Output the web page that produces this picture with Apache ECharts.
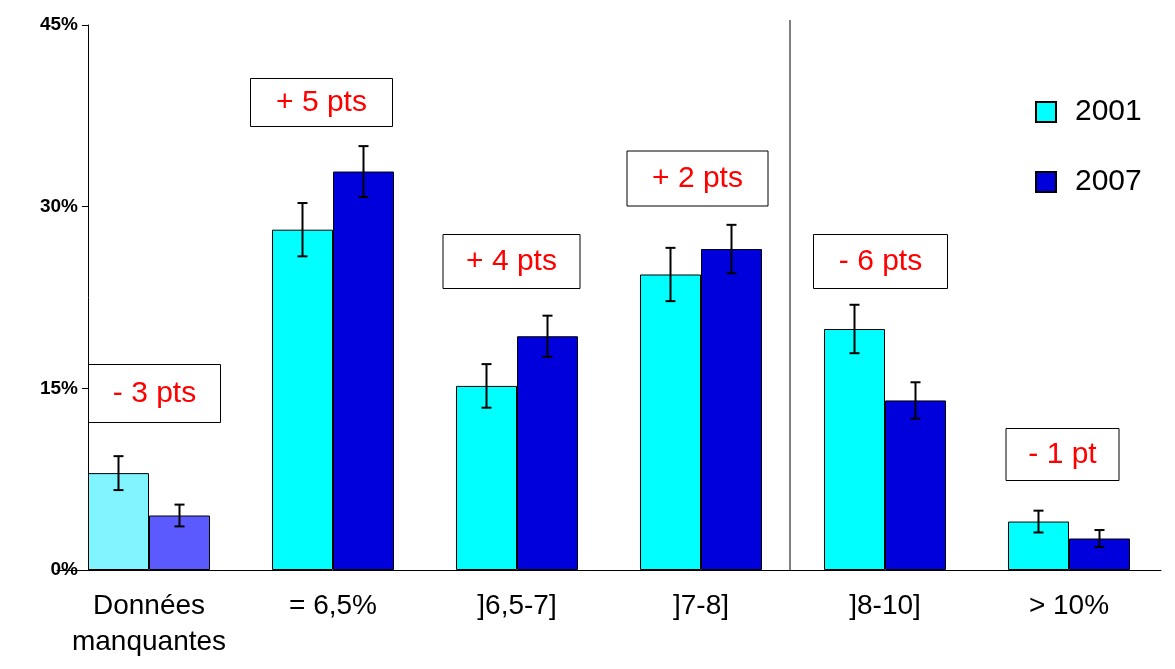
<!DOCTYPE html>
<html><head><meta charset="utf-8">
<script src="https://cdn.jsdelivr.net/npm/echarts@6/dist/echarts.min.js"></script>
<style>html,body{margin:0;background:#fff}#c{width:1175px;height:669px}</style>
</head><body><div id="c"></div>
<script>
var categories = ["Données\nmanquantes", "= 6,5%", "]6,5-7]", "]7-8]", "]8-10]", "> 10%"];
var v2001 = [8.0, 28.1, 15.2, 24.4, 19.9, 4.0];
var v2007 = [4.5, 32.9, 19.3, 26.5, 14.0, 2.6];
var err2001 = [1.4, 2.2, 1.8, 2.2, 2.0, 0.9];
var err2007 = [0.9, 2.1, 1.7, 2.0, 1.5, 0.7];
var yTicks = [0, 15, 30, 45];

var chart = echarts.init(document.getElementById("c"));

function errSeries(vals, errs, side) {
  return {
    type: "custom", z: 10,
    data: vals.map(function (v, i) { return [i, v, errs[i]]; }),
    renderItem: function (params, api) {
      var i = api.value(0), v = api.value(1), e = api.value(2);
      var hi = api.coord([i, v + e]), lo = api.coord([i, v - e]);
      var x = hi[0] + side * 30.5;
      var st = { stroke: "#000", lineWidth: 2 };
      return { type: "group", children: [
        { type: "line", shape: { x1: x, y1: hi[1], x2: x, y2: lo[1] }, style: st },
        { type: "line", shape: { x1: x - 5, y1: hi[1], x2: x + 5, y2: hi[1] }, style: st },
        { type: "line", shape: { x1: x - 5, y1: lo[1], x2: x + 5, y2: lo[1] }, style: st }
      ]};
    }
  };
}

function box(text, cx, cy, w, h) {
  return {
    type: "group", left: cx - w / 2, top: cy - h / 2, children: [
      { type: "rect", shape: { x: 0, y: 0, width: w, height: h }, style: { fill: "#fff", stroke: "#000", lineWidth: 1 } },
      { type: "text", x: w / 2, y: h / 2, style: { text: text, fill: "#ff0000", font: "30px Arial", align: "center", verticalAlign: "middle" } }
    ]
  };
}

chart.setOption({
  animation: false,
  grid: { left: 57, right: 14, top: 25, bottom: 99 },
  legend: {
    orient: "vertical", left: 1030, top: 92, itemWidth: 20, itemHeight: 20, itemGap: 40,
    icon: "rect",
    data: ["2001", "2007"],
    textStyle: { fontSize: 30, fontFamily: "Arial", color: "#000", padding: [0, 0, 0, 14] }
  },
  xAxis: {
    type: "category", data: categories,
    axisLine: { lineStyle: { color: "#000" } },
    axisTick: { show: false },
    axisLabel: { interval: 0, fontSize: 28, fontFamily: "Arial", color: "#000", margin: 18, lineHeight: 36 }
  },
  yAxis: {
    type: "value", min: 0, max: 45, interval: 15, offset: -31,
    axisLine: { show: true, lineStyle: { color: "#000" } },
    axisTick: { show: true, inside: false, length: 6, lineStyle: { color: "#000" } },
    splitLine: { show: false },
    axisLabel: { formatter: "{value}%", fontSize: 19, fontWeight: "bold", fontFamily: "Arial", color: "#000", margin: 10 }
  },
  series: [
    { name: "2001", type: "bar", barWidth: 61, barGap: "0%",
      itemStyle: { color: "#00ffff", borderColor: "#000", borderWidth: 1 },
      data: v2001.map(function (v, i) { return i === 0 ? { value: v, itemStyle: { color: "#80f4ff" } } : v; }) },
    { name: "2007", type: "bar", barWidth: 61,
      itemStyle: { color: "#0000dd", borderColor: "#000", borderWidth: 1 },
      data: v2007.map(function (v, i) { return i === 0 ? { value: v, itemStyle: { color: "#5a5aff" } } : v; }) },
    errSeries(v2001, err2001, -1),
    errSeries(v2007, err2007, 1)
  ],
  graphic: [
    { type: "line", shape: { x1: 790, y1: 20, x2: 790, y2: 570 }, style: { stroke: "#000", lineWidth: 1 } },
    box("+ 5 pts", 321, 102, 142, 48),
    box("- 3 pts", 154, 393, 132, 58),
    box("+ 4 pts", 511, 261, 137, 54),
    box("+ 2 pts", 697, 178, 141, 55),
    box("- 6 pts", 880, 261, 134, 54),
    box("- 1 pt", 1062, 454, 113, 52)
  ]
});
</script></body></html>
